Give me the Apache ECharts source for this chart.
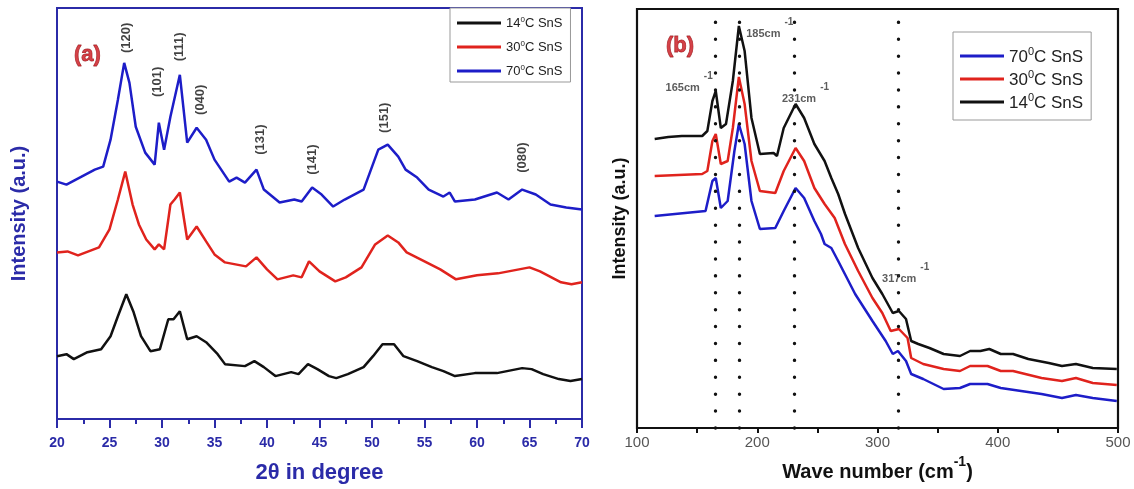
<!DOCTYPE html>
<html>
<head>
<meta charset="utf-8">
<script src="https://cdn.jsdelivr.net/npm/echarts@6/dist/echarts.min.js"></script>
<style>html,body{margin:0;padding:0;background:#fff}#c{width:1134px;height:489px}</style>
</head>
<body>
<div id="c"></div>
<script>
// ---------- Panel (a): XRD ----------
const xrdX70 = [20.0,20.9,21.8,23.6,24.4,25.1,25.8,26.4,26.9,27.5,28.4,29.3,29.7,30.2,30.8,31.7,32.4,33.3,34.2,35.0,36.4,37.1,37.9,39.0,39.7,41.2,42.6,43.3,44.3,45.2,46.3,47.4,49.2,50.6,51.5,52.5,53.2,54.3,55.4,56.8,57.4,57.9,59.8,61.9,63.0,64.3,65.6,67.0,68.5,70.0];
const xrdY70 = [238,235,240,250,253,280,320,357,337,293,267,255,297,270,303,345,277,292,280,260,238,242,237,250,230,217,220,218,232,225,213,220,230,270,275,263,250,242,230,223,227,218,220,227,220,230,225,215,212,210];

const xrdX30 = [20.0,21.0,22.0,23.0,24.0,25.0,25.8,26.5,27.2,27.8,28.5,29.3,29.7,30.2,30.8,31.2,31.7,32.4,33.3,34.2,35.0,36.0,38.0,39.0,40.0,41.0,42.5,43.3,44.0,45.0,46.5,47.5,49.0,50.3,51.5,52.5,53.3,55.0,56.5,58.0,60.0,62.0,64.0,65.0,66.0,68.0,69.0,70.0];
const xrdY30 = [167,168,164,168,172,190,220,248,215,195,180,170,175,170,215,220,227,180,193,178,165,157,153,162,150,140,144,142,158,148,138,142,152,175,184,177,167,158,150,140,144,146,150,152,148,137,135,137];

const xrdX14 = [20.0,20.9,21.6,22.9,24.2,25.1,25.8,26.6,27.3,28.0,28.9,29.8,30.6,31.1,31.7,32.4,33.3,34.2,35.3,36.0,37.9,38.8,39.7,40.8,42.3,43.0,43.9,44.8,45.9,46.6,47.7,49.2,50.1,51.0,52.1,53.0,54.3,55.7,56.8,57.9,59.8,61.9,64.3,65.2,66.3,67.8,68.9,70.0];
const xrdY14 = [63,65,60,67,70,83,103,125,107,83,68,70,100,100,108,80,83,77,65,55,53,58,52,43,47,45,55,50,43,41,45,52,63,75,75,63,58,52,48,43,46,46,51,50,45,40,38,40];

const hklLabels = ['(120)','(101)','(111)','(040)','(131)','(141)','(151)','(080)'];
const hklX = [26.6,29.6,31.7,33.7,39.4,44.3,51.2,64.3];
const hklY = [382,338,373,320,280,260,302,262];

// ---------- Panel (b): Raman ----------
const ramX14 = [114.7,126,137.3,154.2,158.5,162.7,165.5,169.7,174,179.7,184.7,189.5,195.2,202.2,213.6,216.4,222,231.9,239,247.5,256,261.6,267.3,273,283.9,295.8,304,312.7,317.8,323.7,328,333.9,343.2,355,368.6,377,385.6,393,402.5,412.7,425.4,442.4,453.4,465,479,499];
const ramY14 = [289,291,292,292,297,327,337,300,304,347,402,377,310,274,275,272,300,324,310,284,267,250,234,214,180,150,134,115,117,109,87,84,80,74,72,77,77,79,74,74,69,65,62,64,60,59];

const ramX30 = [114.7,154.2,158.5,162.7,165.5,169.7,175.4,179.7,184.7,189.5,195.2,202.2,215,222,231.9,239,247.5,256,264.4,272.9,283.9,295.8,304,311,317.8,325,328,338,355,368.6,377,391.5,402.5,412.7,436.4,453.4,465,479,499];
const ramY30 = [252,254,257,287,294,264,267,300,351,324,267,237,235,257,280,267,240,224,210,184,157,130,115,97,99,90,70,64,59,57,62,62,57,57,50,47,50,45,43];

const ramX70 = [114.7,140,157,162.7,165.5,169.7,175.4,181,184.7,189.5,195.2,202.2,215,222,231.9,239,247.5,253,256,261.6,267.3,281.4,295.8,306.8,312.7,317,323.7,328,338,355,368.6,377,391.5,402.5,436.4,453.4,465,479,499];
const ramY70 = [212,215,217,247,250,220,227,277,304,284,227,199,200,217,240,230,207,194,184,180,167,134,107,87,74,77,67,54,49,39,40,44,44,40,34,30,33,30,27];

const peakLines = [165,185,231,317];
const peakLabels = ['165cm','185cm','231cm','317cm'];
const peakLabelX = [163,190.8,220.5,303.8];
const peakLabelY = [346,400,335,155];
const peakAlign = ['right','left','left','left'];

const colors = {'14°C SnS':'#111111','30°C SnS':'#e0231d','70°C SnS':'#1d1dc8'};

const zip = (xs, ys) => xs.map((x, i) => [x, ys[i]]);
const legendFmt = n => { const p = n.split('°'); return '{n|' + p[0] + '}{s|0}{n|' + p[1] + '}'; };

const blueAx = '#2b2ba8';
const chart = echarts.init(document.getElementById('c'));

function lineSeries(name, data, gi, w) {
  return {name, type:'line', xAxisIndex:gi, yAxisIndex:gi, data, showSymbol:false, symbol:'none',
    lineStyle:{color:colors[name], width:w}, itemStyle:{color:colors[name]}, z:3};
}

const s14b = lineSeries('14°C SnS', zip(ramX14, ramY14), 1, 2.5);
s14b.markLine = {
  silent:true, symbol:['none','none'], animation:false,
  label:{show:false},
  lineStyle:{color:'#111', width:3.4, type:[0.1, 16.8], cap:'round'},
  data: peakLines.map(v => ({xAxis:v}))
};

chart.setOption({
  animation:false,
  backgroundColor:'#fff',
  grid:[
    {left:57, right:552, top:8, bottom:68, show:true, borderColor:blueAx, borderWidth:2},
    {left:637, right:16, top:9, bottom:61, show:true, borderColor:'#111', borderWidth:2.2}
  ],
  xAxis:[
    {gridIndex:0, type:'value', min:20, max:70, interval:5,
     axisLine:{lineStyle:{color:blueAx, width:2}},
     axisTick:{show:true, length:9, lineStyle:{color:blueAx, width:2}},
     minorTick:{show:true, splitNumber:2, length:5, lineStyle:{color:blueAx, width:2}},
     splitLine:{show:false},
     axisLabel:{color:blueAx, fontWeight:'bold', fontSize:14, fontFamily:'Liberation Sans, Arial', margin:17},
     name:'2θ in degree', nameLocation:'middle', nameGap:43,
     nameTextStyle:{color:blueAx, fontWeight:'bold', fontSize:22, fontFamily:'Liberation Sans, Arial'}},
    {gridIndex:1, type:'value', min:100, max:500, interval:100,
     axisLine:{lineStyle:{color:'#111', width:2.2}},
     axisTick:{show:true, length:5, lineStyle:{color:'#111', width:2}},
     minorTick:{show:true, splitNumber:2, length:5, lineStyle:{color:'#111', width:2}},
     splitLine:{show:false},
     axisLabel:{color:'#555', fontSize:15, fontFamily:'Liberation Sans, Arial', margin:7},
     name:'{a|Wave number (cm}{s|-1}{a|)}', nameLocation:'middle', nameGap:24,
     nameTextStyle:{rich:{
       a:{color:'#111', fontWeight:'bold', fontSize:20, fontFamily:'Liberation Sans, Arial', lineHeight:28, verticalAlign:'bottom'},
       s:{color:'#111', fontWeight:'bold', fontSize:14, fontFamily:'Liberation Sans, Arial', verticalAlign:'top'}}}}
  ],
  yAxis:[
    {gridIndex:0, type:'value', min:0, max:412,
     axisLine:{show:false}, axisTick:{show:false}, axisLabel:{show:false}, splitLine:{show:false},
     name:'Intensity (a.u.)', nameLocation:'middle', nameGap:28,
     nameTextStyle:{color:blueAx, fontWeight:'bold', fontSize:20, fontFamily:'Liberation Sans, Arial'}},
    {gridIndex:1, type:'value', min:0, max:419,
     axisLine:{show:false}, axisTick:{show:false}, axisLabel:{show:false}, splitLine:{show:false},
     name:'Intensity (a.u.)', nameLocation:'middle', nameGap:8,
     nameTextStyle:{color:'#111', fontWeight:'bold', fontSize:18, fontFamily:'Liberation Sans, Arial'}}
  ],
  legend:[
    {data:['14°C SnS','30°C SnS','70°C SnS'], orient:'vertical', left:450, top:8,
     backgroundColor:'#fff', borderColor:'#999', borderWidth:1, padding:[8,8,4,7],
     icon:'rect', itemWidth:44, itemHeight:3, itemGap:10, selectedMode:false,
     formatter:legendFmt,
     textStyle:{rich:{
       n:{fontSize:13, color:'#222', fontFamily:'Liberation Sans Narrow, Liberation Sans, Arial', lineHeight:14, verticalAlign:'bottom'},
       s:{fontSize:8, color:'#222', fontFamily:'Liberation Sans, Arial', verticalAlign:'top'}}}},
    {data:['70°C SnS','30°C SnS','14°C SnS'], orient:'vertical', left:953, top:32,
     backgroundColor:'#fff', borderColor:'#999', borderWidth:1, padding:[14,8,8,7],
     icon:'rect', itemWidth:44, itemHeight:3, itemGap:3, selectedMode:false,
     formatter:legendFmt,
     textStyle:{rich:{
       n:{fontSize:17, color:'#222', fontFamily:'Liberation Sans, Arial', lineHeight:20, verticalAlign:'bottom'},
       s:{fontSize:11, color:'#222', fontFamily:'Liberation Sans, Arial', verticalAlign:'top'}}}}
  ],
  series:[
    lineSeries('14°C SnS', zip(xrdX14, xrdY14), 0, 2.5),
    lineSeries('30°C SnS', zip(xrdX30, xrdY30), 0, 2.5),
    lineSeries('70°C SnS', zip(xrdX70, xrdY70), 0, 2.5),
    lineSeries('70°C SnS', zip(ramX70, ramY70), 1, 2.5),
    lineSeries('30°C SnS', zip(ramX30, ramY30), 1, 2.5),
    s14b,
    {type:'scatter', xAxisIndex:0, yAxisIndex:0, symbolSize:0, silent:true, z:5,
     data: hklLabels.map((t, i) => ({name:t, value:[hklX[i], hklY[i]]})),
     label:{show:true, position:'inside', rotate:90, formatter:'{b}', color:'#111', fontWeight:'bold', fontSize:13, fontFamily:'Liberation Sans, Arial'}},
    {type:'scatter', xAxisIndex:0, yAxisIndex:0, symbolSize:0, silent:true, z:5,
     data:[{name:'(a)', value:[22.9, 365]}],
     label:{show:true, position:'inside', formatter:'{b}', color:'#c8141c', fontWeight:'bold', fontSize:22, fontFamily:'Liberation Sans, Arial', textBorderColor:'#8a0e12', textBorderWidth:0.8}},
    {type:'scatter', xAxisIndex:1, yAxisIndex:1, symbolSize:0, silent:true, z:5,
     data:[{name:'(b)', value:[135.8, 382]}],
     label:{show:true, position:'inside', formatter:'{b}', color:'#c8141c', fontWeight:'bold', fontSize:22, fontFamily:'Liberation Sans, Arial', textBorderColor:'#8a0e12', textBorderWidth:0.8}},
    {type:'scatter', xAxisIndex:1, yAxisIndex:1, symbolSize:0, silent:true, z:5,
     data: peakLabels.map((t, i) => ({name:t, value:[peakLabelX[i], peakLabelY[i]],
       label:{align:peakAlign[i]}})),
     label:{show:true, position:'inside', formatter:'{b|{b}}{s|-1}',
       rich:{
         b:{color:'#333', fontWeight:'bold', fontSize:11, fontFamily:'Liberation Sans Narrow, Liberation Sans, Arial', lineHeight:22, verticalAlign:'bottom'},
         s:{color:'#333', fontWeight:'bold', fontSize:10, fontFamily:'Liberation Sans, Arial', verticalAlign:'top', padding:[0,0,0,4]}}}}
  ]
});
</script>
</body>
</html>
